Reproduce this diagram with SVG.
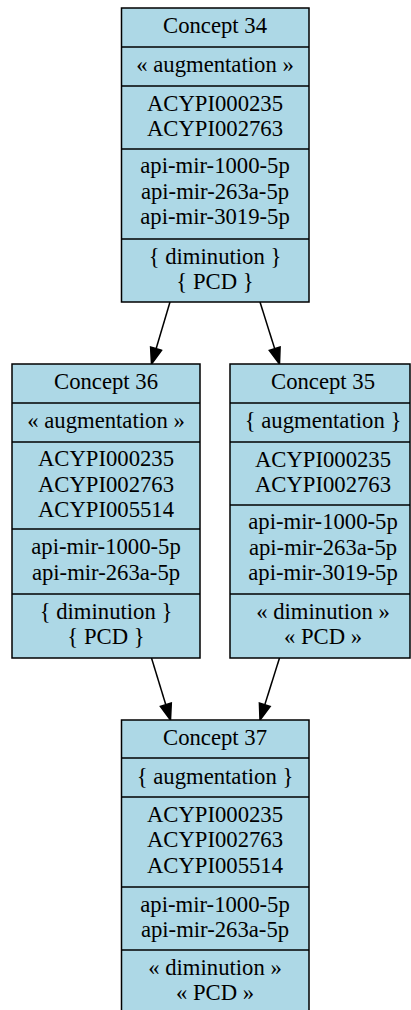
<svg xmlns="http://www.w3.org/2000/svg" width="411" height="1010" viewBox="0 0 411 1010">
<style>
.box{fill:#add8e6;stroke:#000;stroke-width:1.5}
.div{stroke:#000;stroke-width:1.5}
text{font-family:"Liberation Serif","Times New Roman",serif;font-size:22.7px;fill:#000;text-anchor:middle}
.edge{stroke:#000;stroke-width:1.5;fill:none}
.head{fill:#000;stroke:#000;stroke-width:1.5}
</style>
<rect width="411" height="1010" fill="#fff"/>
<g id="connectors">
<line class="edge" x1="170" y1="302" x2="156.1" y2="348.7"/>
<polygon class="head" points="161.5,350.3 150.6,347 151.5,364"/>
<line class="edge" x1="260" y1="302" x2="274.7" y2="348.7"/>
<polygon class="head" points="280.1,347 269.3,350.4 279.5,364"/>
<line class="edge" x1="151.5" y1="658" x2="165.8" y2="704.7"/>
<polygon class="head" points="171.3,703 160.4,706.4 170.5,720"/>
<line class="edge" x1="279.5" y1="658" x2="264.8" y2="704.7"/>
<polygon class="head" points="270.2,706.4 259.4,703 260,720"/>
</g>
<g id="node34">
<rect class="box" x="121.5" y="8" width="187.5" height="294"/>
<line class="div" x1="121.5" y1="47" x2="309" y2="47"/>
<line class="div" x1="121.5" y1="86" x2="309" y2="86"/>
<line class="div" x1="121.5" y1="149" x2="309" y2="149"/>
<line class="div" x1="121.5" y1="239" x2="309" y2="239"/>
<text x="215" y="33">Concept 34</text>
<text x="215" y="72">« augmentation »</text>
<text x="215" y="110.5">ACYPI000235</text>
<text x="215" y="136">ACYPI002763</text>
<text x="215" y="173">api-mir-1000-5p</text>
<text x="215" y="198.5">api-mir-263a-5p</text>
<text x="215" y="224">api-mir-3019-5p</text>
<text x="215" y="263.5">{ diminution }</text>
<text x="215" y="289">{ PCD }</text>
</g>
<g id="node36">
<rect class="box" x="12" y="364" width="188" height="294"/>
<line class="div" x1="12" y1="403" x2="200" y2="403"/>
<line class="div" x1="12" y1="442" x2="200" y2="442"/>
<line class="div" x1="12" y1="529" x2="200" y2="529"/>
<line class="div" x1="12" y1="594" x2="200" y2="594"/>
<text x="106" y="389">Concept 36</text>
<text x="106" y="428">« augmentation »</text>
<text x="106" y="466">ACYPI000235</text>
<text x="106" y="491.5">ACYPI002763</text>
<text x="106" y="517">ACYPI005514</text>
<text x="106" y="554">api-mir-1000-5p</text>
<text x="106" y="579.5">api-mir-263a-5p</text>
<text x="106" y="618.5">{ diminution }</text>
<text x="106" y="644">{ PCD }</text>
</g>
<g id="node35">
<rect class="box" x="230" y="364" width="180" height="294"/>
<line class="div" x1="230" y1="403" x2="410" y2="403"/>
<line class="div" x1="230" y1="442" x2="410" y2="442"/>
<line class="div" x1="230" y1="505" x2="410" y2="505"/>
<line class="div" x1="230" y1="594" x2="410" y2="594"/>
<text x="323" y="389">Concept 35</text>
<text x="323" y="428">{ augmentation }</text>
<text x="323" y="466.5">ACYPI000235</text>
<text x="323" y="492">ACYPI002763</text>
<text x="323" y="529">api-mir-1000-5p</text>
<text x="323" y="554.5">api-mir-263a-5p</text>
<text x="323" y="580">api-mir-3019-5p</text>
<text x="323" y="618.5">« diminution »</text>
<text x="323" y="644">« PCD »</text>
</g>
<g id="node37">
<rect class="box" x="121.5" y="720" width="187.5" height="294"/>
<line class="div" x1="121.5" y1="758" x2="309" y2="758"/>
<line class="div" x1="121.5" y1="797" x2="309" y2="797"/>
<line class="div" x1="121.5" y1="887" x2="309" y2="887"/>
<line class="div" x1="121.5" y1="950" x2="309" y2="950"/>
<text x="215" y="745">Concept 37</text>
<text x="215" y="783.5">{ augmentation }</text>
<text x="215" y="821.5">ACYPI000235</text>
<text x="215" y="847">ACYPI002763</text>
<text x="215" y="872.5">ACYPI005514</text>
<text x="215" y="911.5">api-mir-1000-5p</text>
<text x="215" y="937">api-mir-263a-5p</text>
<text x="215" y="974.5">« diminution »</text>
<text x="215" y="1000">« PCD »</text>
</g>
</svg>
